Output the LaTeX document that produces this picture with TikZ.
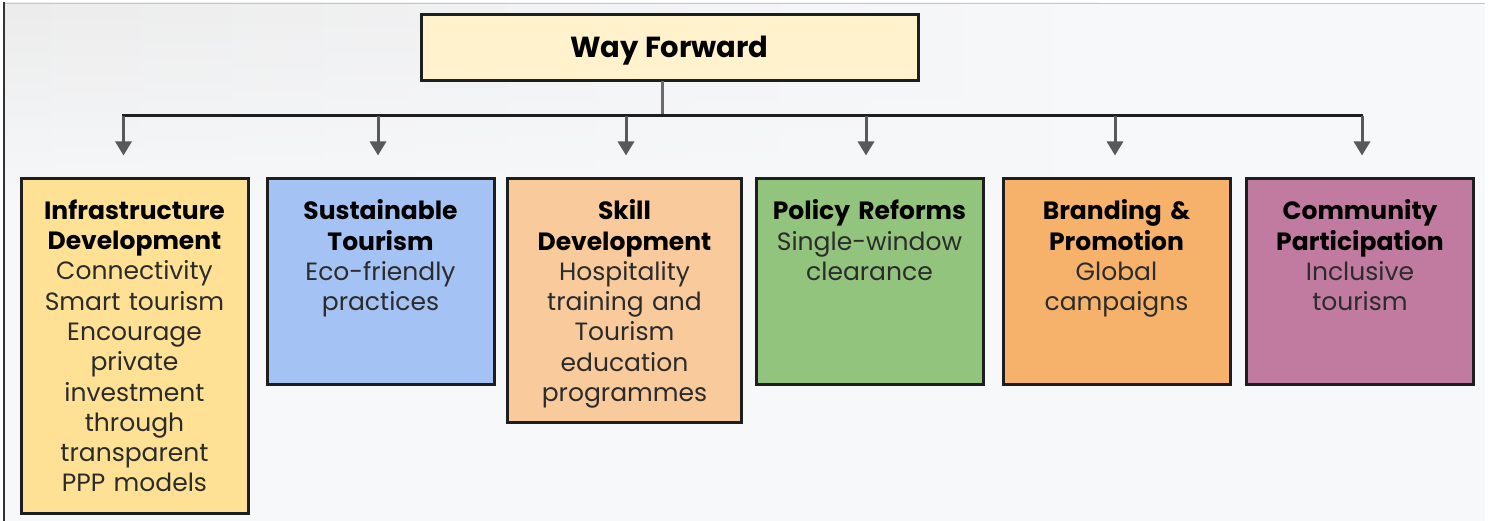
\documentclass[tikz,border=0pt]{standalone}
\usepackage{fontspec}
\setmainfont{Poppins}
\usetikzlibrary{arrows.meta,fadings}
\definecolor{bgc}{HTML}{F7F8FA}
\definecolor{bgdark}{HTML}{ECECEC}
\definecolor{topc}{HTML}{FFF2CC}
\definecolor{c1}{HTML}{FFE196}
\definecolor{c2}{HTML}{A4C2F4}
\definecolor{c3}{HTML}{F9CB9C}
\definecolor{c4}{HTML}{93C47D}
\definecolor{c5}{HTML}{F6B26B}
\definecolor{c6}{HTML}{C27BA0}
\definecolor{edge}{HTML}{1E1E1E}
\definecolor{arr}{HTML}{595959}
\definecolor{stemc}{HTML}{6A6A6A}
\definecolor{bodyc}{HTML}{2B2B2B}
\tikzset{
  card/.style={draw=edge, line width=3pt, rectangle, inner sep=0pt},
  txt/.style={text width=226pt, align=center, inner sep=0pt, text=bodyc,
    font=\fontsize{25}{30.3}\selectfont},
  branch/.style={draw=arr, line width=3pt, -{Triangle[length=14pt,width=16pt]}, shorten >=22pt},
  busline/.style={draw=edge, line width=3pt},
  stemline/.style={draw=stemc, line width=3pt}
}
\begin{document}
\begin{tikzpicture}[x=1pt,y=-1pt]
\useasboundingbox (0,0) rectangle (1492,521);
\fill[white] (0,0) rectangle (1492,521);
\fill[bgc] (5,3) rectangle (1485,521);
\shade[left color=bgdark, right color=bgc, path fading=south] (5,3) rectangle (1100,200);
\draw[gray!45, line width=1pt] (5,3.5) -- (1485,3.5);
\draw[black!80, line width=2pt] (4,2) -- (4,521);

% top node
\node[card, fill=topc, minimum width=497pt, minimum height=66pt,
  text height=25pt, text depth=6pt,
  font=\fontsize{29}{34}\selectfont\bfseries] (top) at (669.5,48) {Way Forward};

% boxes
\node[card, fill=c1, minimum width=227pt, minimum height=334pt] (b1) at (134.5,346) {};
\node[card, fill=c2, minimum width=227pt, minimum height=206pt] (b2) at (380.5,282) {};
\node[card, fill=c3, minimum width=234pt, minimum height=243pt] (b3) at (624.5,300.5) {};
\node[card, fill=c4, minimum width=227pt, minimum height=206pt] (b4) at (869.5,282) {};
\node[card, fill=c5, minimum width=227pt, minimum height=206pt] (b5) at (1116.5,282) {};
\node[card, fill=c6, minimum width=227pt, minimum height=206pt] (b6) at (1360,282) {};

% texts
\node[txt, anchor=north] (t1) at ([yshift=-22pt]b1.north)
  {\textbf{\color{black}Infrastructure}\\\textbf{\color{black}Development}\\Connectivity\\Smart tourism\\Encourage\\private\\investment\\through\\transparent\\PPP models};
\node[txt, anchor=north] (t2) at ([yshift=-22pt]b2.north)
  {\textbf{\color{black}Sustainable}\\\textbf{\color{black}Tourism}\\Eco-friendly\\practices};
\node[txt, anchor=north] (t3) at ([yshift=-22pt]b3.north)
  {\textbf{\color{black}Skill}\\\textbf{\color{black}Development}\\Hospitality\\training and\\Tourism\\education\\programmes};
\node[txt, anchor=north] (t4) at ([yshift=-22pt]b4.north)
  {\textbf{\color{black}Policy Reforms}\\Single-window\\clearance};
\node[txt, anchor=north] (t5) at ([yshift=-22pt]b5.north)
  {\textbf{\color{black}Branding \&}\\\textbf{\color{black}Promotion}\\Global\\campaigns};
\node[txt, anchor=north] (t6) at ([yshift=-22pt]b6.north)
  {\textbf{\color{black}Community}\\\textbf{\color{black}Participation}\\Inclusive\\tourism};

% connectors
\coordinate (s0) at (662,81);
\coordinate (s1) at (662,116);
\coordinate (bl) at (122,116);
\coordinate (br) at (1363,116);
\draw[stemline] (s0) -- (s1);
\draw[busline] (bl) -- (br);
\coordinate (a1) at ([xshift=-11pt]b1.north);
\coordinate (a2) at ([xshift=-2.5pt]b2.north);
\coordinate (a3) at ([xshift=1.5pt]b3.north);
\coordinate (a4) at ([xshift=-3.5pt]b4.north);
\coordinate (a5) at ([xshift=-1.5pt]b5.north);
\coordinate (a6) at ([xshift=2pt]b6.north);
\foreach \a in {a1,a2,a3,a4,a5,a6}{
  \draw[branch] (\a |- bl) -- (\a);
}
\end{tikzpicture}
\end{document}
